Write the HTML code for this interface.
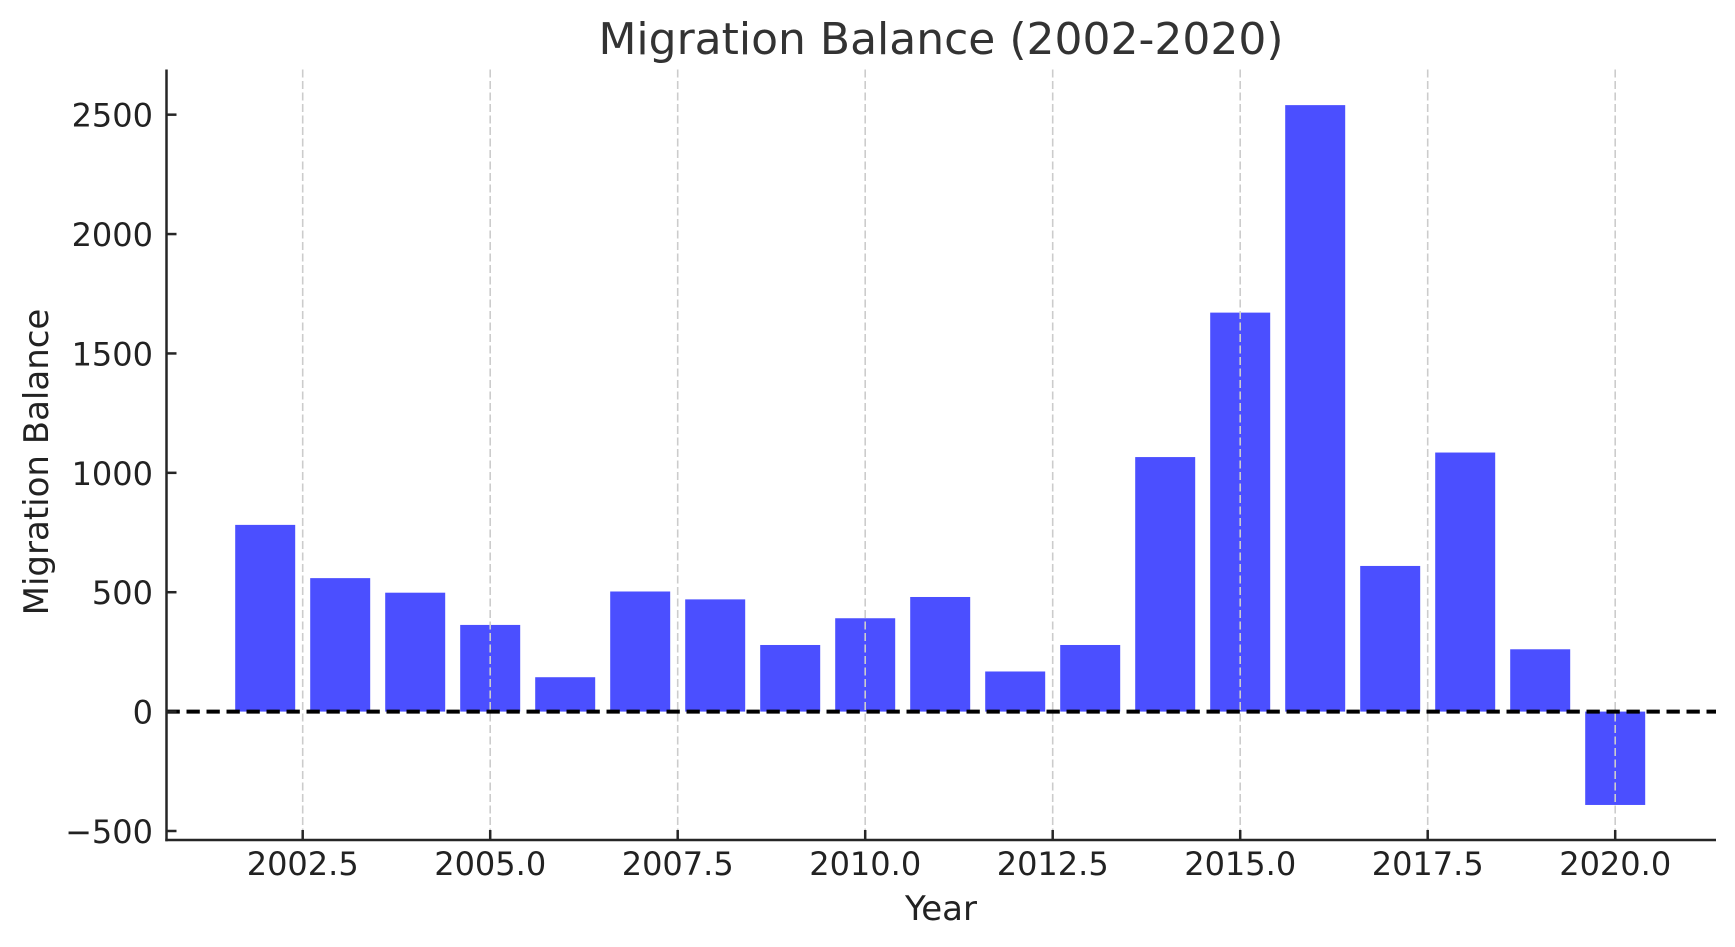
<!DOCTYPE html>
<html><head><meta charset="utf-8"><style>
html,body{margin:0;padding:0;background:#fff;}
svg{display:block;font-family:"DejaVu Sans","Liberation Sans",sans-serif;}
</style></head><body>
<svg id="chart" width="1735" height="947" viewBox="0 0 1735 947" xmlns="http://www.w3.org/2000/svg">
<text x="941" y="54" font-size="44" text-anchor="middle" fill="#333">Migration Balance (2002-2020)</text>
<text x="941" y="920" font-size="34" text-anchor="middle" fill="#222">Year</text>
<text transform="translate(48,462) rotate(-90)" font-size="34" text-anchor="middle" fill="#222">Migration Balance</text>
<g id="grid"></g><g id="bars"></g><g id="overlay"></g><g id="axes"></g>
</svg>
<script>
const years = [2002,2003,2004,2005,2006,2007,2008,2009,2010,2011,2012,2013,2014,2015,2016,2017,2018,2019,2020];
const balances = [782,559,498,363,144,503,470,279,391,480,168,279,1066,1671,2540,610,1085,261,-391];
const xTicks = [2002.5,2005.0,2007.5,2010.0,2012.5,2015.0,2017.5,2020.0];
const xTickLabels = ["2002.5","2005.0","2007.5","2010.0","2012.5","2015.0","2017.5","2020.0"];
const yTicks = [-500,0,500,1000,1500,2000,2500];
const yTickLabels = ["\u2212500","0","500","1000","1500","2000","2500"];

const L=166.5,R=1716,T=69.5,B=840;
const ns="http://www.w3.org/2000/svg";
function X(v){return 302.7+(v-2002.5)*75;}
function Y(v){return 711.6-v*0.23877;}
function mk(tag,attrs,parent){const e=document.createElementNS(ns,tag);for(const k in attrs)e.setAttribute(k,attrs[k]);parent.appendChild(e);return e;}
const grid=document.getElementById('grid'),bars=document.getElementById('bars'),ov=document.getElementById('overlay'),axes=document.getElementById('axes');
xTicks.forEach((t,i)=>{
  const g=mk('line',{x1:X(t),x2:X(t),y1:T,y2:B,stroke:'#cccccc','stroke-width':1.6,'stroke-dasharray':'8,3.5'},ov);
  
  
  const tk=mk('line',{x1:X(t),x2:X(t),y1:B,y2:B-10,stroke:'#262626','stroke-width':2.5},axes);
  
  
  const lb=mk('text',{x:X(t),y:875,'font-size':32,'text-anchor':'middle',fill:'#222'},axes);
  lb.textContent=xTickLabels[i];
  
  
});
yTicks.forEach((t,i)=>{
  const tk=mk('line',{x1:L,x2:L+10,y1:Y(t),y2:Y(t),stroke:'#262626','stroke-width':2.5},axes);
  
  
  const lb=mk('text',{x:153,y:Y(t)+12,'font-size':32,'text-anchor':'end',fill:'#222'},axes);
  lb.textContent=yTickLabels[i];
  
  
});
years.forEach((yr,i)=>{
  const v=balances[i];
  const y0=Y(Math.max(v,0)),y1=Y(Math.min(v,0));
  const r=mk('rect',{x:X(yr)-30,y:y0,width:60,height:y1-y0,fill:'#4b4fff'},bars);
  
  
});
const z=mk('line',{x1:L,x2:R,y1:Y(0),y2:Y(0),stroke:'#000','stroke-width':4,'stroke-dasharray':'13.3,6.7'},ov);


const ya=mk('line',{x1:L,x2:L,y1:T,y2:B+1.2,stroke:'#262626','stroke-width':2.5},axes);


const xa=mk('line',{x1:L-1.2,x2:R,y1:B,y2:B,stroke:'#262626','stroke-width':2.5},axes);


</script>
</body></html>
